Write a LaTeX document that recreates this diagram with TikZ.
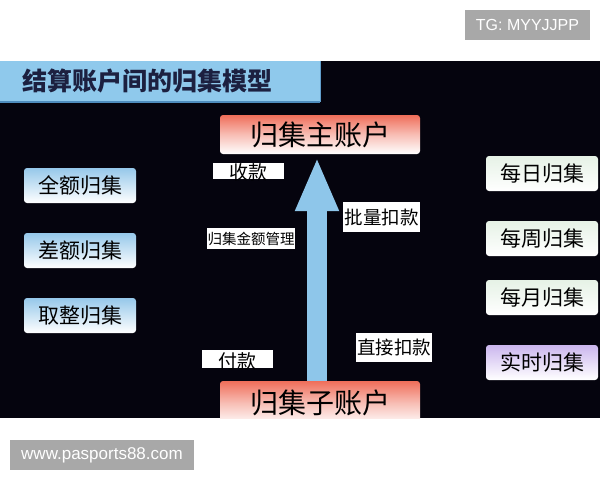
\documentclass[tikz,border=0pt]{standalone}
\usepackage{fontspec}
\newfontfamily\cjk{Noto Sans CJK SC}
\newfontfamily\wm{Liberation Sans}
\usetikzlibrary{arrows.meta}
\definecolor{bgdark}{HTML}{05040E}
\definecolor{titleblue}{HTML}{8FC9EC}
\definecolor{titleedge}{HTML}{4F8DBE}
\definecolor{titletext}{HTML}{1C2040}
\definecolor{salmonc}{HTML}{EF6E5A}
\definecolor{lblue}{HTML}{96C8EA}
\definecolor{lgreen}{HTML}{E6F2E6}
\definecolor{lavender}{HTML}{CBB6EE}
\definecolor{arrowblue}{HTML}{8EC6EA}
\definecolor{wmgray}{HTML}{A8A8A8}
\tikzset{
  fs/.style={font=\cjk\fontsize{#1}{#1}\selectfont},
  roundbox/.style={rounded corners=3pt, inner sep=0pt, text=black},
  acct/.style={roundbox, top color=salmonc, bottom color=white, middle color=white!55!salmonc, minimum width=200pt, fs=28},
  leftbox/.style={roundbox, top color=lblue, bottom color=white, minimum width=112pt, minimum height=35pt, fs=21},
  rightbox/.style={roundbox, top color=#1, bottom color=white, minimum width=112pt, minimum height=35pt, fs=21},
  lbl/.style={fill=white, inner sep=0pt, text=black},
  wmbox/.style={fill=wmgray, text=white, inner sep=0pt, minimum height=30pt},
  bigarrow/.style={draw=arrowblue, line width=20pt, line cap=butt, -{Triangle[width=40pt,length=54pt]}}
}
\begin{document}
\begin{tikzpicture}[x=1pt,y=-1pt]
\useasboundingbox[fill=white] (0,0) rectangle (600,480);
\fill[bgdark] (0,61) rectangle (600,418);
% title bar
\node[anchor=west, fill=titleblue, inner xsep=22pt, inner ysep=0pt, text width=276pt, minimum height=41pt, align=left, text=titletext, font=\cjk\bfseries\fontsize{25}{25}\selectfont] (title) at (0,81.5) {结算账户间的归集模型};
\draw[titleedge, line width=2pt] (title.south west) -- (title.south east);
\draw[titleedge!70!titleblue, line width=1.5pt] (title.north east) -- (title.south east);
% accounts
\node[acct, minimum height=39pt] (main) at (320,134.5) {归集主账户};
\begin{scope}
  \clip (0,61) rectangle (600,418);
  \node[acct, minimum height=44pt] (sub) at (320,403) {归集子账户};
\end{scope}
\draw[bigarrow, shorten >=3pt] ([xshift=-3pt]sub.north) -- ([xshift=-3pt]main.south);
% labels
\node[lbl, minimum width=71pt, minimum height=16pt, text height=16pt, text depth=0pt, fs=19] (shou) at (248.5,171) {收款};
\node[lbl, minimum width=88pt, minimum height=21pt, fs=14.5] (jine) at (251,238.5) {归集金额管理};
\node[lbl, minimum width=77pt, minimum height=30pt, fs=18.5] (piliang) at (381.5,217) {批量扣款};
\node[lbl, minimum width=76pt, minimum height=29pt, fs=18.5] (zhijie) at (394,347.5) {直接扣款};
\node[lbl, minimum width=71pt, minimum height=18pt, text height=18pt, text depth=0pt, fs=19] (fu) at (237.5,359) {付款};
% left boxes
\node[leftbox] (quan) at (80,185.5) {全额归集};
\node[leftbox] (cha) at (80,250.5) {差额归集};
\node[leftbox] (qu) at (80,315.5) {取整归集};
% right boxes
\node[rightbox=lgreen] (meiri) at (542,173.5) {每日归集};
\node[rightbox=lgreen] (meizhou) at (542,238.5) {每周归集};
\node[rightbox=lgreen] (meiyue) at (542,297.5) {每月归集};
\node[rightbox=lavender] (shishi) at (542,362.5) {实时归集};
% watermarks
\node[wmbox, minimum width=125pt, font=\wm\fontsize{16}{16}\selectfont] (tg) at (527.5,25) {TG: MYYJJPP};
\node[wmbox, minimum width=184pt, font=\wm\fontsize{17}{17}\selectfont] (www) at (102,455) {www.pasports88.com};
\end{tikzpicture}
\end{document}
